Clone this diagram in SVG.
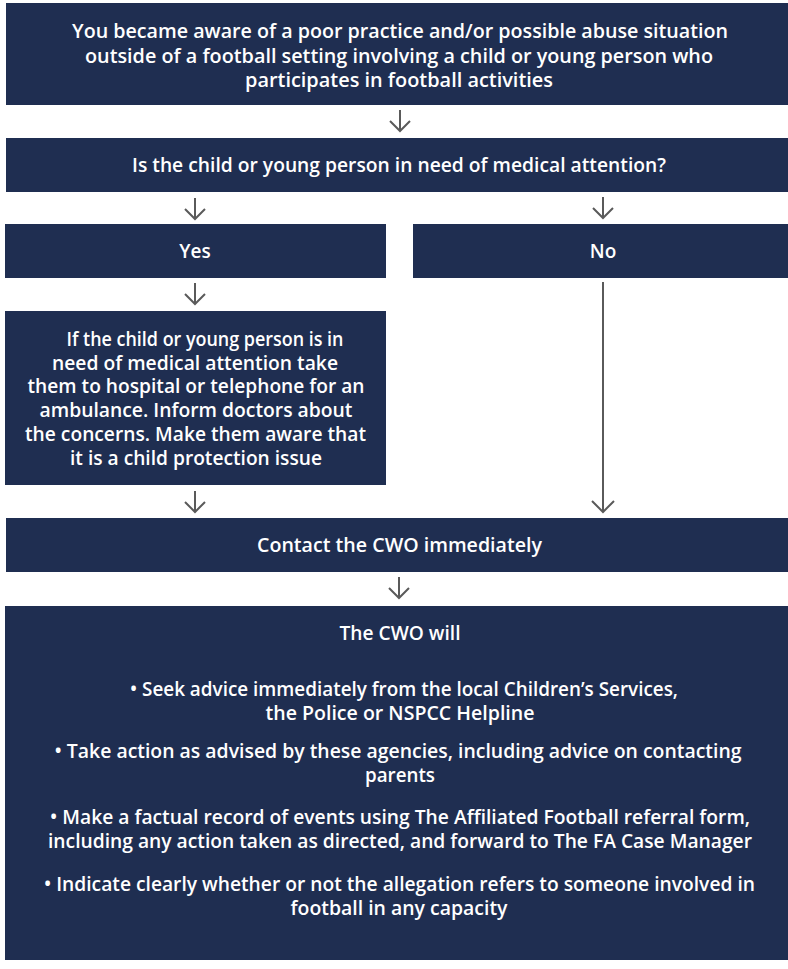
<svg xmlns="http://www.w3.org/2000/svg" width="788" height="969" viewBox="0 0 788 969">
<defs>
<style>
.box{fill:#1f2e51}
.t{font-family:"Open Sans","Noto Sans","DejaVu Sans",sans-serif;font-weight:600;font-size:19px;fill:#ffffff;text-anchor:middle}
.arr{fill:none;stroke:#5a5a5a;stroke-width:2;stroke-linecap:butt;stroke-linejoin:miter}
</style>
</defs>
<rect width="788" height="969" fill="#ffffff"/>
<g id="connectors">
<path class="arr" d="M400 110V131M390 121L400 131L410 121"/>
<path class="arr" d="M195 198V219M185 209L195 219L205 209"/>
<path class="arr" d="M603 197V218M593 208L603 218L613 208"/>
<path class="arr" d="M195 283V304M185 294L195 304L205 294"/>
<path class="arr" d="M195 491V512M185 502L195 512L205 502"/>
<path class="arr" d="M603 282V512M592 501L603 512L614 501"/>
<path class="arr" d="M399 577V598M389 588L399 598L409 588"/>
</g>
<g id="n1">
<rect class="box" x="6" y="3" width="782" height="102"/>
<text class="t" x="400" y="38" textLength="656" lengthAdjust="spacingAndGlyphs">You became aware of a poor practice and/or possible abuse situation</text>
<text class="t" x="399" y="62.5" textLength="628" lengthAdjust="spacingAndGlyphs">outside of a football setting involving a child or young person who</text>
<text class="t" x="399" y="87" textLength="308" lengthAdjust="spacingAndGlyphs">participates in football activities</text>
</g>
<g id="n2">
<rect class="box" x="6" y="138" width="782" height="54"/>
<text class="t" x="399" y="172" textLength="534" lengthAdjust="spacingAndGlyphs">Is the child or young person in need of medical attention?</text>
</g>
<g id="yes">
<rect class="box" x="5" y="224" width="381" height="54"/>
<text class="t" x="195" y="258">Yes</text>
</g>
<g id="no">
<rect class="box" x="413" y="224" width="375" height="54"/>
<text class="t" x="603" y="258">No</text>
</g>
<g id="medical">
<rect class="box" x="5" y="311" width="381" height="174"/>
<text class="t" x="205" y="346" textLength="277" lengthAdjust="spacingAndGlyphs">If the child or young person is in</text>
<text class="t" x="195" y="369.7" textLength="286" lengthAdjust="spacingAndGlyphs">need of medical attention take</text>
<text class="t" x="196" y="393.4" textLength="337" lengthAdjust="spacingAndGlyphs">them to hospital or telephone for an</text>
<text class="t" x="196" y="417.1" textLength="313" lengthAdjust="spacingAndGlyphs">ambulance. Inform doctors about</text>
<text class="t" x="195.5" y="440.8" textLength="341" lengthAdjust="spacingAndGlyphs">the concerns. Make them aware that</text>
<text class="t" x="196" y="464.5" textLength="252" lengthAdjust="spacingAndGlyphs">it is a child protection issue</text>
</g>
<g id="contact">
<rect class="box" x="6" y="518" width="782" height="54"/>
<text class="t" x="399.5" y="552" textLength="285" lengthAdjust="spacingAndGlyphs">Contact the CWO immediately</text>
</g>
<g id="cwo">
<rect class="box" x="5" y="606" width="783" height="354"/>
<text class="t" x="400" y="640" textLength="121" lengthAdjust="spacingAndGlyphs">The CWO will</text>
<text class="t" x="404" y="696" textLength="548" lengthAdjust="spacingAndGlyphs">• Seek advice immediately from the local Children’s Services,</text>
<text class="t" x="400" y="719.7" textLength="269" lengthAdjust="spacingAndGlyphs">the Police or NSPCC Helpline</text>
<text class="t" x="398" y="758" textLength="687" lengthAdjust="spacingAndGlyphs">• Take action as advised by these agencies, including advice on contacting</text>
<text class="t" x="400" y="781.7" textLength="70" lengthAdjust="spacingAndGlyphs">parents</text>
<text class="t" x="400" y="824" textLength="700" lengthAdjust="spacingAndGlyphs">• Make a factual record of events using The Affiliated Football referral form,</text>
<text class="t" x="400" y="847.7" textLength="704" lengthAdjust="spacingAndGlyphs">including any action taken as directed, and forward to The FA Case Manager</text>
<text class="t" x="399.5" y="891" textLength="711" lengthAdjust="spacingAndGlyphs">• Indicate clearly whether or not the allegation refers to someone involved in</text>
<text class="t" x="399" y="914.7" textLength="217" lengthAdjust="spacingAndGlyphs">football in any capacity</text>
</g>
</svg>
